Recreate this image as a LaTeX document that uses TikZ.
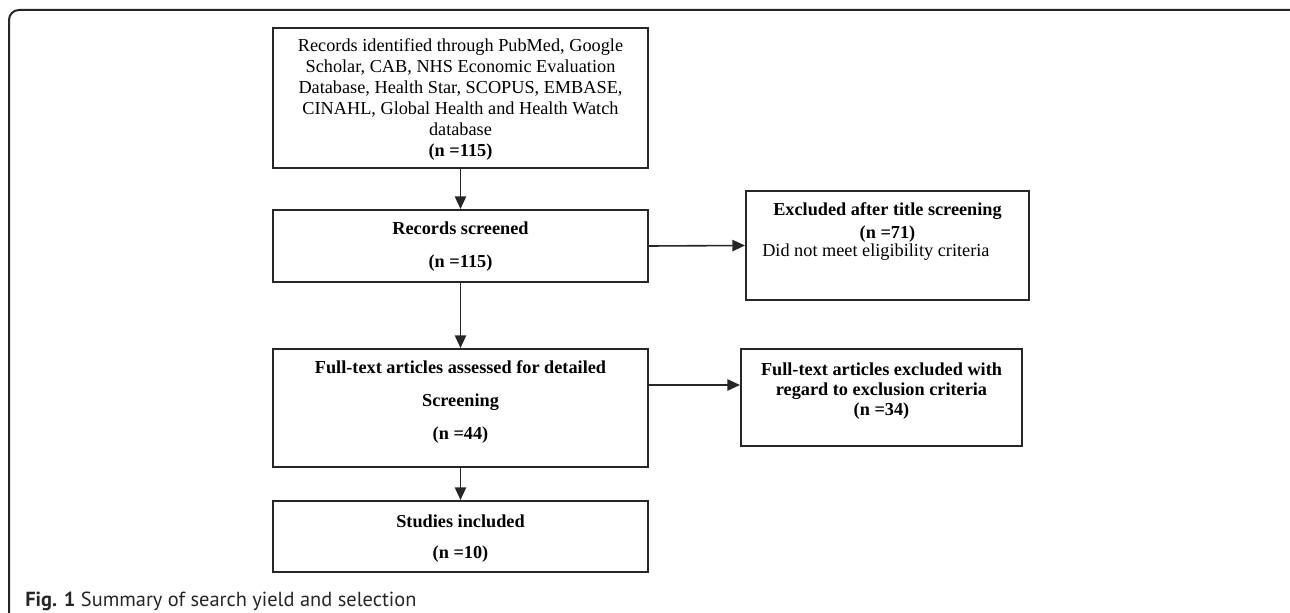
\documentclass[tikz,border=0pt]{standalone}
\usepackage{fontspec}
\setmainfont{Liberation Serif}
\newfontfamily\capfont{PT Sans}
\usetikzlibrary{arrows.meta}
\definecolor{ink}{HTML}{262626}
\tikzset{
  box/.style={draw=ink, line width=1.5pt, inner sep=0pt, rectangle},
  txt/.style={inner sep=0pt, align=center, text=black},
  conn/.style={draw=ink, line width=1.2pt, -{Triangle[length=9.5pt,width=8.5pt]}},
  frame/.style={draw=ink, line width=1.5pt, rounded corners=7.5pt}
}
\begin{document}
\begin{tikzpicture}[x=0.75pt, y=-0.75pt]
\useasboundingbox (0,0) rectangle (1290,613);
% outer frame
\draw[frame] (9,640) -- (9,10) -- (1300,10) -- (1300,640);

% boxes
\node[box, minimum width=281.25pt, minimum height=105pt] (b1) at (460.5,98) {};
\node[box, minimum width=281.25pt, minimum height=54pt] (b2) at (460.5,246) {};
\node[box, minimum width=281.25pt, minimum height=88.5pt] (b3) at (460.5,408) {};
\node[box, minimum width=281.25pt, minimum height=53.25pt] (b4) at (460.5,536.5) {};
\node[box, minimum width=212.25pt, minimum height=81.75pt] (e1) at (887.5,245.5) {};
\node[box, minimum width=210.75pt, minimum height=72.75pt] (e2) at (881.5,397.5) {};

% texts
\node[txt, font=\fontsize{13.7}{15.75}\selectfont] (t1) at (460.5,100)
  {Records identified through PubMed, Google\\Scholar, CAB, NHS Economic Evaluation\\Database, Health Star, SCOPUS, EMBASE,\\CINAHL, Global Health and Health Watch\\database\\\textbf{(n =115)}};
\node[txt, font=\fontsize{13.7}{24.75}\selectfont\bfseries] (t2) at (460.5,247)
  {Records screened\\(n =115)};
\node[txt, font=\fontsize{13.7}{24.4}\selectfont\bfseries] (t3) at (460.5,402)
  {Full-text articles assessed for detailed\\Screening\\(n =44)};
\node[txt, font=\fontsize{13.7}{23.25}\selectfont\bfseries] (t4) at (460.5,539)
  {Studies included\\(n =10)};
\node[txt, font=\fontsize{13.7}{17.25}\selectfont\bfseries] (t5) at (887.5,223)
  {Excluded after title screening\\(n =71)};
\node[txt, anchor=west, font=\fontsize{13.7}{15}\selectfont] (t6) at (762,252)
  {Did not meet eligibility criteria};
\node[txt, font=\fontsize{13.7}{15}\selectfont\bfseries] (t7) at (881.5,391)
  {Full-text articles excluded with\\regard to exclusion criteria\\(n =34)};

% caption
\node[inner sep=0pt, anchor=base west, font=\capfont\fontsize{15.3}{17}\selectfont, text=ink] (cap) at (25,606)
  {\textbf{Fig. 1} Summary of search yield and selection};

% connectors
\draw[conn] (b1.south) -- (b2.north);
\draw[conn] (b2.east) -- (e1.west);
\draw[conn] (b2.south) -- (b3.north);
\draw[conn] ([yshift=17.25pt]b3.east) -- ([yshift=17.25pt]b3.east -| e2.west);
\draw[conn] (b3.south) -- (b4.north);
\end{tikzpicture}
\end{document}
